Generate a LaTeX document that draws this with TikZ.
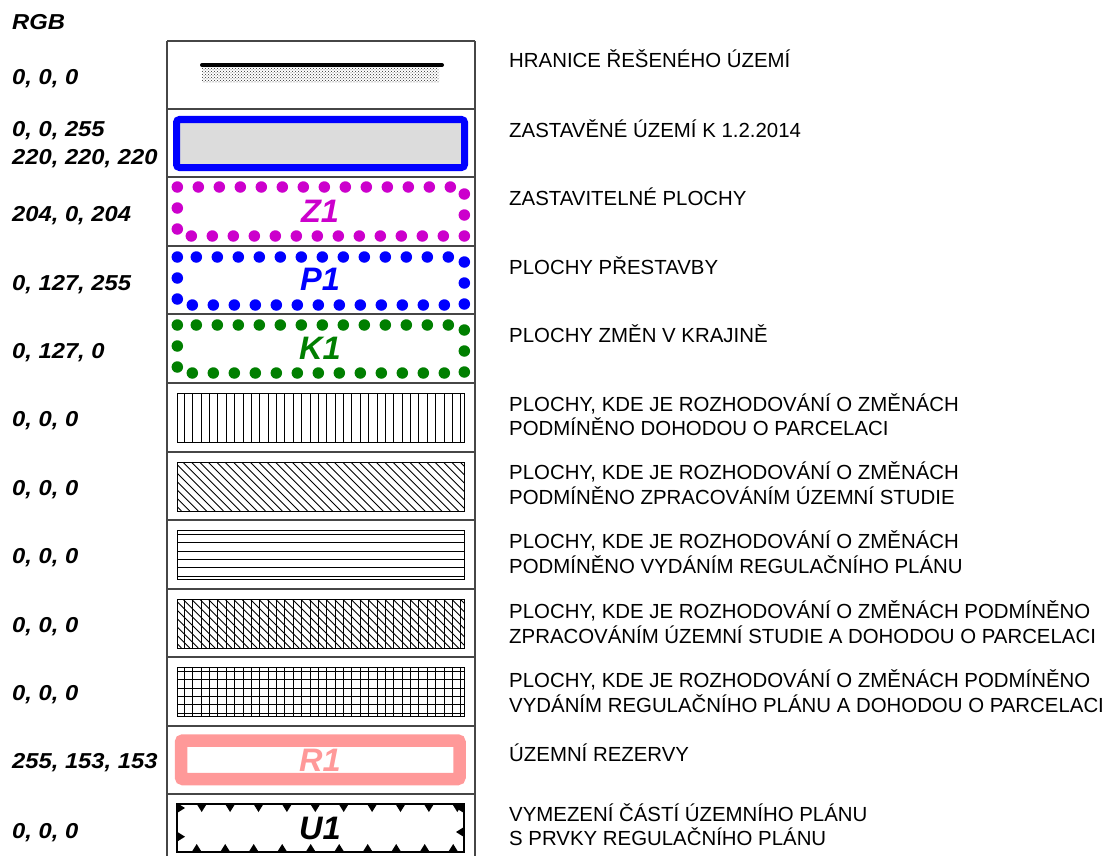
\documentclass[tikz,border=0pt]{standalone}
\usepackage{fontspec}
\setmainfont{Liberation Sans}
\usepackage{graphicx}
\usetikzlibrary{patterns}
\definecolor{framegray}{RGB}{70,70,70}
\definecolor{magZ}{RGB}{204,0,204}
\definecolor{blueP}{RGB}{0,0,255}
\definecolor{greenK}{RGB}{0,127,0}
\definecolor{pinkR}{RGB}{255,153,153}
\definecolor{grayF}{RGB}{220,220,220}
\definecolor{stip}{RGB}{40,40,40}
\newcommand{\rgbtxt}[1]{\scalebox{1.1}[1]{#1}}
\begin{document}
\begin{tikzpicture}[x=1pt,y=-1pt,
  desc/.style={anchor=base west, inner sep=0pt, font=\fontsize{20.4}{24}\selectfont},
  rgblbl/.style={anchor=base west, inner sep=0pt, font=\fontsize{21.6}{24}\selectfont\bfseries\itshape},
  codelbl/.style={anchor=base, inner sep=0pt, font=\fontsize{32.5}{34}\selectfont\bfseries\itshape},
  framestyle/.style={draw=framegray, line width=1.3pt},
  hatchbox/.style={draw=black, line width=1pt},
  hatchline/.style={draw=black, line width=0.9pt},
  dotbox/.style={line width=11.5pt, line cap=round, dash pattern=on 0pt off 21pt},
  tri/.style={fill=black, draw=none}]
\useasboundingbox (0,0) rectangle (1115,856);

% ---- frame of the swatch column
\foreach \t in {41,109,177,246,314,383,452,520,589,657,726,794}
  \draw[framestyle] (167,\t) -- (475,\t);
\draw[framestyle] (167,41) -- (167,856);
\draw[framestyle] (475,41) -- (475,856);

% ---- row 1: boundary line
\fill[pattern=crosshatch dots, pattern color=stip] (202,67) rectangle (439,83);
\draw[line width=4pt, line cap=round] (202,65) -- (442,65);

% ---- row 2: built-up area
\draw[blueP, line width=7pt, fill=grayF, rounded corners=3pt] (176.5,119.5) rectangle (464.5,167.5);

% ---- rows 3-5: dotted areas
\draw[dotbox, magZ] (177.3,187) rectangle (464.3,236);
\node[codelbl, text=magZ] (z1) at (320,222.7) {Z1};
\draw[dotbox, blueP] (177.3,257) rectangle (464.3,305);
\node[codelbl, text=blueP] (p1) at (320,290.7) {P1};
\draw[dotbox, greenK] (177.3,325) rectangle (464.3,373);
\node[codelbl, text=greenK] (k1) at (320,359) {K1};

% ---- row 6: vertical hatch
\begin{scope}
\clip (177,393) rectangle (464,442);
\foreach \k in {0,...,33} \draw[hatchline] (184.3+8.38*\k,393) -- ++(0,49);
\end{scope}
\draw[hatchbox] (177,393) rectangle (464,442);

% ---- row 7: diagonal hatch
\begin{scope}
\clip (177,462) rectangle (464,511);
\foreach \k in {0,...,41} \draw[hatchline] (124+8.4*\k,462) -- ++(49,49);
\end{scope}
\draw[hatchbox] (177,462) rectangle (464,511);

% ---- row 8: horizontal hatch
\begin{scope}
\clip (177,530) rectangle (464,579);
\foreach \k in {0,...,5} \draw[hatchline] (177,534.3+8.33*\k) -- (464,534.3+8.33*\k);
\end{scope}
\draw[hatchbox] (177,530) rectangle (464,579);

% ---- row 9: vertical + diagonal
\begin{scope}
\clip (177,599) rectangle (464,648);
\foreach \k in {0,...,33} \draw[hatchline] (184.3+8.38*\k,599) -- ++(0,49);
\foreach \k in {0,...,41} \draw[hatchline] (124+8.4*\k,599) -- ++(49,49);
\end{scope}
\draw[hatchbox] (177,599) rectangle (464,648);

% ---- row 10: grid
\begin{scope}
\clip (177,667) rectangle (464,716);
\foreach \k in {0,...,33} \draw[hatchline] (184.3+8.38*\k,667) -- ++(0,49);
\foreach \k in {0,...,5} \draw[hatchline] (177,671.3+8.33*\k) -- (464,671.3+8.33*\k);
\end{scope}
\draw[hatchbox] (177,667) rectangle (464,716);

% ---- row 11: reserves
\draw[pinkR, line width=12.5pt, rounded corners=2pt] (181,740.5) rectangle (459.5,779);
\node[codelbl, text=pinkR] (r1) at (320,771) {R1};

% ---- row 12: regulation plan parts
\draw[hatchbox, line width=1.2pt] (177,804) rectangle (464,852);
\foreach \k in {0,...,9} \fill[tri] (201.7+28.4*\k-5,804) -- ++(10,0) -- ++(-5,8) -- cycle;
\foreach \k in {0,...,9} \fill[tri] (196.7+28.5*\k-5,852) -- ++(10,0) -- ++(-5,-8) -- cycle;
\foreach \yy in {808,836.7} \fill[tri] (177,\yy-5) -- ++(0,10) -- ++(8,-5) -- cycle;
\foreach \yy in {808,832} \fill[tri] (464,\yy-5) -- ++(0,10) -- ++(-8,-5) -- cycle;
\node[codelbl] (u1) at (320,839) {U1};

% ---- RGB column
\node[rgblbl] (rgb) at (12,30) {\rgbtxt{RGB}};
\node[rgblbl] (c1) at (12,84.5) {\rgbtxt{0, 0, 0}};
\node[rgblbl] (c2a) at (12,136.5) {\rgbtxt{0, 0, 255}};
\node[rgblbl] (c2b) at (12,164) {\rgbtxt{220, 220, 220}};
\node[rgblbl] (c3) at (12,221.5) {\rgbtxt{204, 0, 204}};
\node[rgblbl] (c4) at (12,290) {\rgbtxt{0, 127, 255}};
\node[rgblbl] (c5) at (12,358) {\rgbtxt{0, 127, 0}};
\node[rgblbl] (c6) at (12,426) {\rgbtxt{0, 0, 0}};
\node[rgblbl] (c7) at (12,495) {\rgbtxt{0, 0, 0}};
\node[rgblbl] (c8) at (12,563) {\rgbtxt{0, 0, 0}};
\node[rgblbl] (c9) at (12,632) {\rgbtxt{0, 0, 0}};
\node[rgblbl] (c10) at (12,700) {\rgbtxt{0, 0, 0}};
\node[rgblbl] (c11) at (12,768.5) {\rgbtxt{255, 153, 153}};
\node[rgblbl] (c12) at (12,838) {\rgbtxt{0, 0, 0}};

% ---- descriptions
\node[desc] (t1) at (509,67.3) {HRANICE ŘEŠENÉHO ÚZEMÍ};
\node[desc] (t2) at (509,137) {ZASTAVĚNÉ ÚZEMÍ K 1.2.2014};
\node[desc] (t3) at (509,205) {ZASTAVITELNÉ PLOCHY};
\node[desc] (t4) at (509,274) {PLOCHY PŘESTAVBY};
\node[desc] (t5) at (509,342) {PLOCHY ZMĚN V KRAJINĚ};
\node[desc] (t6a) at (509,411) {PLOCHY, KDE JE ROZHODOVÁNÍ O ZMĚNÁCH};
\node[desc] (t6b) at (509,435.5) {PODMÍNĚNO DOHODOU O PARCELACI};
\node[desc] (t7a) at (509,479) {PLOCHY, KDE JE ROZHODOVÁNÍ O ZMĚNÁCH};
\node[desc] (t7b) at (509,504) {PODMÍNĚNO ZPRACOVÁNÍM ÚZEMNÍ STUDIE};
\node[desc] (t8a) at (509,548) {PLOCHY, KDE JE ROZHODOVÁNÍ O ZMĚNÁCH};
\node[desc] (t8b) at (509,573) {PODMÍNĚNO VYDÁNÍM REGULAČNÍHO PLÁNU};
\node[desc] (t9a) at (509,618) {PLOCHY, KDE JE ROZHODOVÁNÍ O ZMĚNÁCH PODMÍNĚNO};
\node[desc] (t9b) at (509,643) {ZPRACOVÁNÍM ÚZEMNÍ STUDIE A DOHODOU O PARCELACI};
\node[desc] (t10a) at (509,687) {PLOCHY, KDE JE ROZHODOVÁNÍ O ZMĚNÁCH PODMÍNĚNO};
\node[desc] (t10b) at (509,712) {VYDÁNÍM REGULAČNÍHO PLÁNU A DOHODOU O PARCELACI};
\node[desc] (t11) at (509,761) {ÚZEMNÍ REZERVY};
\node[desc] (t12a) at (509,821) {VYMEZENÍ ČÁSTÍ ÚZEMNÍHO PLÁNU};
\node[desc] (t12b) at (509,845) {S PRVKY REGULAČNÍHO PLÁNU};
\end{tikzpicture}
\end{document}
